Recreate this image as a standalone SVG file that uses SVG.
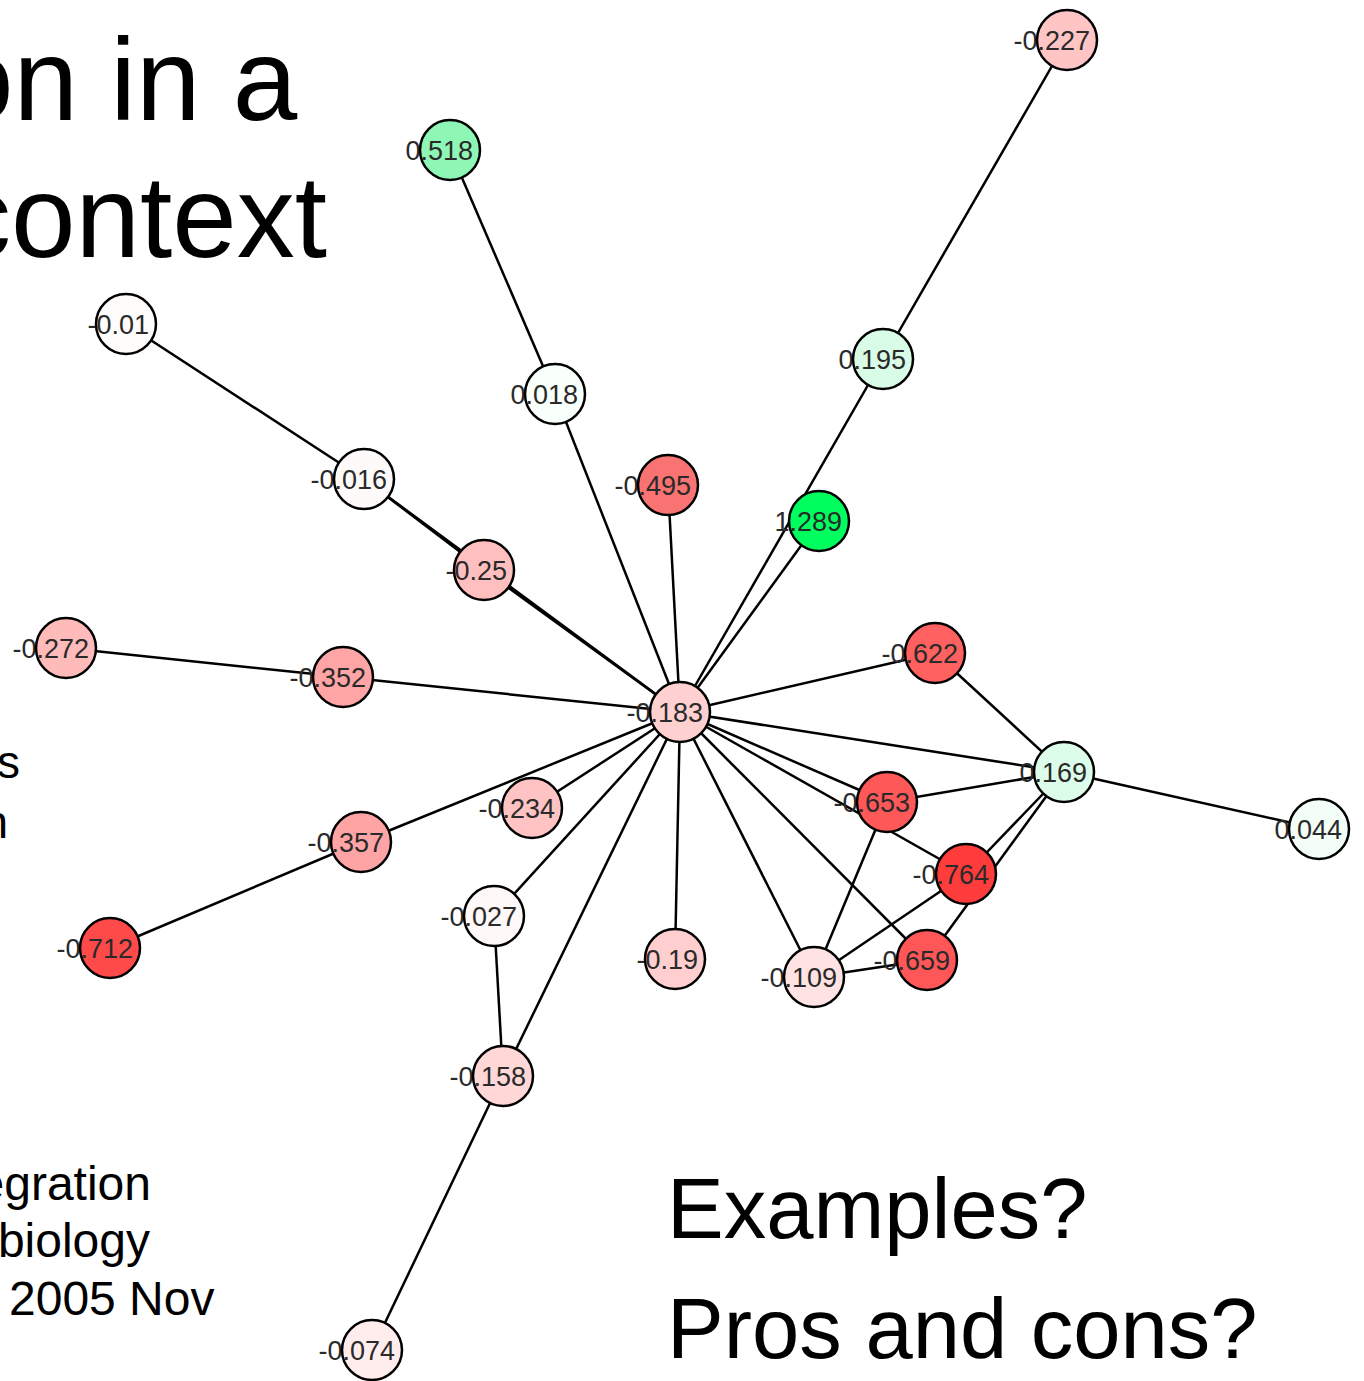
<svg xmlns="http://www.w3.org/2000/svg" width="1364" height="1381" viewBox="0 0 1364 1381">
<style>
.bg{font-family:"Liberation Sans",Arial,sans-serif;fill:#000}
.e line{stroke:#000;stroke-width:2.5}
.f{stroke:none}
.ring{fill:none;stroke:#000;stroke-width:2.5}
.lbl{font-family:"Liberation Sans",Arial,sans-serif;font-size:27px;fill:#2a2a2a;text-anchor:end}
</style>
<rect width="1364" height="1381" fill="#fff"/>
<g id="background-text" class="bg">
<text x="-51" y="120" font-size="116">on in a</text>
<text x="-47" y="257" font-size="116">context</text>
<text x="20" y="778" font-size="46" text-anchor="end">s</text>
<text x="8" y="838" font-size="46" text-anchor="end">n</text>
<text x="151" y="1200" font-size="48" text-anchor="end">egration</text>
<text x="150" y="1257" font-size="48" text-anchor="end">biology</text>
<text x="9" y="1315" font-size="48">2005 Nov</text>
<text x="667" y="1238" font-size="85">Examples?</text>
<text x="667" y="1358" font-size="85">Pros and cons?</text>
</g>
<g id="connectors" class="e">
<line x1="1067" y1="40" x2="883" y2="359"/>
<line x1="883" y1="359" x2="680" y2="712"/>
<line x1="819" y1="521" x2="680" y2="712"/>
<line x1="450" y1="150" x2="555" y2="394"/>
<line x1="555" y1="394" x2="680" y2="712"/>
<line x1="126" y1="324" x2="364" y2="479"/>
<line x1="364" y1="479" x2="484" y2="570"/>
<line x1="364" y1="479" x2="680" y2="712"/>
<line x1="484" y1="570" x2="680" y2="712"/>
<line x1="668" y1="485" x2="680" y2="712"/>
<line x1="66" y1="648" x2="343" y2="677"/>
<line x1="343" y1="677" x2="680" y2="712"/>
<line x1="680" y1="712" x2="935" y2="653"/>
<line x1="680" y1="712" x2="1064" y2="772"/>
<line x1="680" y1="712" x2="887" y2="802"/>
<line x1="680" y1="712" x2="966" y2="874"/>
<line x1="680" y1="712" x2="927" y2="960"/>
<line x1="680" y1="712" x2="814" y2="977"/>
<line x1="680" y1="712" x2="532" y2="808"/>
<line x1="680" y1="712" x2="361" y2="842"/>
<line x1="680" y1="712" x2="494" y2="916"/>
<line x1="680" y1="712" x2="503" y2="1076"/>
<line x1="680" y1="712" x2="675" y2="959"/>
<line x1="935" y1="653" x2="1064" y2="772"/>
<line x1="1064" y1="772" x2="1319" y2="829"/>
<line x1="887" y1="802" x2="1064" y2="772"/>
<line x1="887" y1="802" x2="814" y2="977"/>
<line x1="1064" y1="772" x2="966" y2="874"/>
<line x1="1064" y1="772" x2="927" y2="960"/>
<line x1="966" y1="874" x2="814" y2="977"/>
<line x1="814" y1="977" x2="927" y2="960"/>
<line x1="361" y1="842" x2="110" y2="948"/>
<line x1="494" y1="916" x2="503" y2="1076"/>
<line x1="503" y1="1076" x2="372" y2="1350"/>
</g>
<g id="node-m0227"><circle class="f" cx="1067" cy="40" r="30" fill="#ffc5c5"/><text class="lbl" x="1090" y="50">-0.227</text><circle class="ring" cx="1067" cy="40" r="30"/></g>
<g id="node-p0518"><circle class="f" cx="450" cy="150" r="30" fill="#8ef7b5"/><text class="lbl" x="473" y="160">0.518</text><circle class="ring" cx="450" cy="150" r="30"/></g>
<g id="node-p0195"><circle class="f" cx="883" cy="359" r="30" fill="#d9fce6"/><text class="lbl" x="906" y="369">0.195</text><circle class="ring" cx="883" cy="359" r="30"/></g>
<g id="node-p0018"><circle class="f" cx="555" cy="394" r="30" fill="#f9fffb"/><text class="lbl" x="578" y="404">0.018</text><circle class="ring" cx="555" cy="394" r="30"/></g>
<g id="node-m001"><circle class="f" cx="126" cy="324" r="30" fill="#fffcfc"/><text class="lbl" x="149" y="334">-0.01</text><circle class="ring" cx="126" cy="324" r="30"/></g>
<g id="node-m0016"><circle class="f" cx="364" cy="479" r="30" fill="#fffafa"/><text class="lbl" x="387" y="489">-0.016</text><circle class="ring" cx="364" cy="479" r="30"/></g>
<g id="node-m0495"><circle class="f" cx="668" cy="485" r="30" fill="#fa7373"/><text class="lbl" x="691" y="495">-0.495</text><circle class="ring" cx="668" cy="485" r="30"/></g>
<g id="node-p1289"><circle class="f" cx="819" cy="521" r="30" fill="#00ff5e"/><text class="lbl" x="842" y="531">1.289</text><circle class="ring" cx="819" cy="521" r="30"/></g>
<g id="node-m025"><circle class="f" cx="484" cy="570" r="30" fill="#ffbfbf"/><text class="lbl" x="507" y="580">-0.25</text><circle class="ring" cx="484" cy="570" r="30"/></g>
<g id="node-m0272"><circle class="f" cx="66" cy="648" r="30" fill="#ffbaba"/><text class="lbl" x="89" y="658">-0.272</text><circle class="ring" cx="66" cy="648" r="30"/></g>
<g id="node-m0352"><circle class="f" cx="343" cy="677" r="30" fill="#ffa5a5"/><text class="lbl" x="366" y="687">-0.352</text><circle class="ring" cx="343" cy="677" r="30"/></g>
<g id="node-m0183"><circle class="f" cx="680" cy="712" r="30" fill="#ffd0d0"/><text class="lbl" x="703" y="722">-0.183</text><circle class="ring" cx="680" cy="712" r="30"/></g>
<g id="node-m0622"><circle class="f" cx="935" cy="653" r="30" fill="#ff6060"/><text class="lbl" x="958" y="663">-0.622</text><circle class="ring" cx="935" cy="653" r="30"/></g>
<g id="node-p0169"><circle class="f" cx="1064" cy="772" r="30" fill="#dcfde9"/><text class="lbl" x="1087" y="782">0.169</text><circle class="ring" cx="1064" cy="772" r="30"/></g>
<g id="node-m0653"><circle class="f" cx="887" cy="802" r="30" fill="#ff5858"/><text class="lbl" x="910" y="812">-0.653</text><circle class="ring" cx="887" cy="802" r="30"/></g>
<g id="node-p0044"><circle class="f" cx="1319" cy="829" r="30" fill="#f3fef7"/><text class="lbl" x="1342" y="839">0.044</text><circle class="ring" cx="1319" cy="829" r="30"/></g>
<g id="node-m0234"><circle class="f" cx="532" cy="808" r="30" fill="#ffc3c3"/><text class="lbl" x="555" y="818">-0.234</text><circle class="ring" cx="532" cy="808" r="30"/></g>
<g id="node-m0357"><circle class="f" cx="361" cy="842" r="30" fill="#ffa4a4"/><text class="lbl" x="384" y="852">-0.357</text><circle class="ring" cx="361" cy="842" r="30"/></g>
<g id="node-m0764"><circle class="f" cx="966" cy="874" r="30" fill="#ff3c3c"/><text class="lbl" x="989" y="884">-0.764</text><circle class="ring" cx="966" cy="874" r="30"/></g>
<g id="node-m0027"><circle class="f" cx="494" cy="916" r="30" fill="#fff8f8"/><text class="lbl" x="517" y="926">-0.027</text><circle class="ring" cx="494" cy="916" r="30"/></g>
<g id="node-m0712"><circle class="f" cx="110" cy="948" r="30" fill="#ff4a4a"/><text class="lbl" x="133" y="958">-0.712</text><circle class="ring" cx="110" cy="948" r="30"/></g>
<g id="node-m019"><circle class="f" cx="675" cy="959" r="30" fill="#ffcfcf"/><text class="lbl" x="698" y="969">-0.19</text><circle class="ring" cx="675" cy="959" r="30"/></g>
<g id="node-m0659"><circle class="f" cx="927" cy="960" r="30" fill="#ff5757"/><text class="lbl" x="950" y="970">-0.659</text><circle class="ring" cx="927" cy="960" r="30"/></g>
<g id="node-m0109"><circle class="f" cx="814" cy="977" r="30" fill="#ffe3e3"/><text class="lbl" x="837" y="987">-0.109</text><circle class="ring" cx="814" cy="977" r="30"/></g>
<g id="node-m0158"><circle class="f" cx="503" cy="1076" r="30" fill="#ffd7d7"/><text class="lbl" x="526" y="1086">-0.158</text><circle class="ring" cx="503" cy="1076" r="30"/></g>
<g id="node-m0074"><circle class="f" cx="372" cy="1350" r="30" fill="#ffeded"/><text class="lbl" x="395" y="1360">-0.074</text><circle class="ring" cx="372" cy="1350" r="30"/></g>
</svg>
